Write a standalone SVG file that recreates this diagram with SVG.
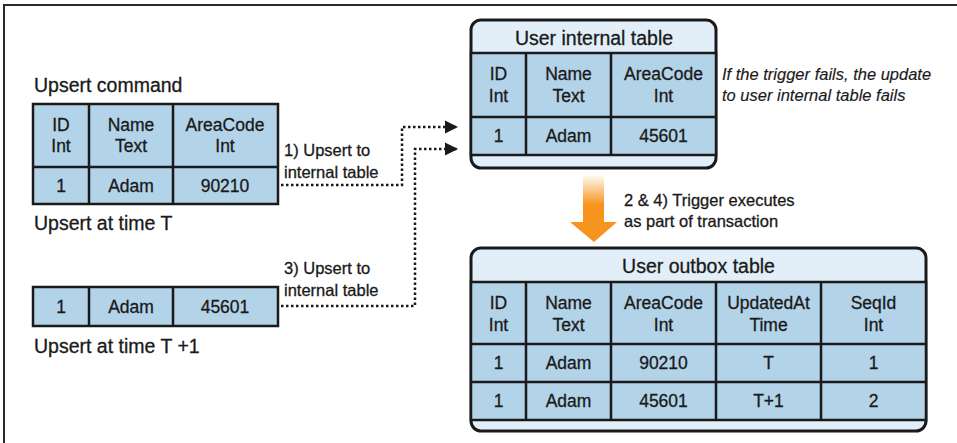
<svg xmlns="http://www.w3.org/2000/svg" width="957" height="443" viewBox="0 0 957 443">
  <style>
    text { font-family: "Liberation Sans", Arial, sans-serif; fill: #1a1a1a; stroke: #1a1a1a; stroke-width: 0.3; }
    .cell { fill: #b3d3e8; stroke: #1a1a1a; stroke-width: 2.5; }
    .band { fill: #e2eff8; stroke: #1a1a1a; stroke-width: 3; }
    .grid { stroke: #1a1a1a; stroke-width: 2.5; fill: none; }
    .c { font-size: 17.5px; text-anchor: middle; }
    .lbl { font-size: 19.5px; }
    .note { font-size: 16.5px; }
    .it { font-size: 16.5px; font-style: italic; stroke-width: 0.15; }
    .title { font-size: 19.5px; text-anchor: middle; }
    .dot { fill: none; stroke: #1a1a1a; stroke-width: 2.5; stroke-dasharray: 2.5 2.5; }
  </style>
  <defs>
    <marker id="head" viewBox="0 0 10 10" refX="10" refY="5" markerWidth="13" markerHeight="14" markerUnits="userSpaceOnUse" orient="auto">
      <path d="M0,0 L10,5 L0,10 Z" fill="#1a1a1a"/>
    </marker>
    <linearGradient id="fade" x1="0" y1="0" x2="0" y2="1">
      <stop offset="0" stop-color="#f7941d" stop-opacity="0"/>
      <stop offset="0.45" stop-color="#f7941d" stop-opacity="1"/>
      <stop offset="1" stop-color="#f7941d"/>
    </linearGradient>
  </defs>

  <!-- page frame: top and left rules -->
  <path d="M4,443 V5 H957" fill="none" stroke="#2a2a2a" stroke-width="2"/>

  <!-- upsert command at time T -->
  <g id="upsert-t">
    <text class="lbl" x="34" y="92">Upsert command</text>
    <rect class="cell" x="33" y="104" width="245" height="100"/>
    <path class="grid" d="M33,167 H278 M89,104 V204 M173,104 V204"/>
    <text class="c" x="61" y="131">ID</text>
    <text class="c" x="61" y="152">Int</text>
    <text class="c" x="131" y="131">Name</text>
    <text class="c" x="131" y="152">Text</text>
    <text class="c" x="225" y="131">AreaCode</text>
    <text class="c" x="225" y="152">Int</text>
    <text class="c" x="61" y="192">1</text>
    <text class="c" x="131" y="192">Adam</text>
    <text class="c" x="225" y="192">90210</text>
    <text class="lbl" x="34" y="230">Upsert at time T</text>
  </g>

  <!-- upsert at time T+1 -->
  <g id="upsert-t1">
    <rect class="cell" x="33" y="287" width="245" height="39"/>
    <path class="grid" d="M89,287 V326 M173,287 V326"/>
    <text class="c" x="61" y="313">1</text>
    <text class="c" x="131" y="313">Adam</text>
    <text class="c" x="225" y="313">45601</text>
    <text class="lbl" x="34" y="353">Upsert at time T +1</text>
  </g>

  <!-- user internal table -->
  <g id="internal-table">
    <rect class="band" x="471" y="20" width="245" height="148" rx="10"/>
    <rect class="cell" x="471" y="53" width="245" height="102"/>
    <path class="grid" d="M471,117 H716 M526,53 V155 M611,53 V155"/>
    <text class="title" x="594" y="45">User internal table</text>
    <text class="c" x="498.5" y="80">ID</text>
    <text class="c" x="498.5" y="102">Int</text>
    <text class="c" x="568.5" y="80">Name</text>
    <text class="c" x="568.5" y="102">Text</text>
    <text class="c" x="663.5" y="80">AreaCode</text>
    <text class="c" x="663.5" y="102">Int</text>
    <text class="c" x="498.5" y="142">1</text>
    <text class="c" x="568.5" y="142">Adam</text>
    <text class="c" x="663.5" y="142">45601</text>
  </g>

  <text class="it" x="722" y="80">If the trigger fails, the update</text>
  <text class="it" x="722" y="101">to user internal table fails</text>

  <!-- user outbox table -->
  <g id="outbox-table">
    <rect class="band" x="471" y="248" width="455" height="183" rx="10"/>
    <rect class="cell" x="471" y="282" width="455" height="138"/>
    <path class="grid" d="M471,344 H926 M471,382 H926 M526,282 V420 M611,282 V420 M716,282 V420 M821,282 V420"/>
    <text class="title" x="698.5" y="273">User outbox table</text>
    <text class="c" x="498.5" y="309">ID</text>
    <text class="c" x="498.5" y="331">Int</text>
    <text class="c" x="568.5" y="309">Name</text>
    <text class="c" x="568.5" y="331">Text</text>
    <text class="c" x="663.5" y="309">AreaCode</text>
    <text class="c" x="663.5" y="331">Int</text>
    <text class="c" x="768.5" y="309">UpdatedAt</text>
    <text class="c" x="768.5" y="331">Time</text>
    <text class="c" x="873.5" y="309">SeqId</text>
    <text class="c" x="873.5" y="331">Int</text>
    <text class="c" x="498.5" y="369">1</text>
    <text class="c" x="568.5" y="369">Adam</text>
    <text class="c" x="663.5" y="369">90210</text>
    <text class="c" x="768.5" y="369">T</text>
    <text class="c" x="873.5" y="369">1</text>
    <text class="c" x="498.5" y="407">1</text>
    <text class="c" x="568.5" y="407">Adam</text>
    <text class="c" x="663.5" y="407">45601</text>
    <text class="c" x="768.5" y="407">T+1</text>
    <text class="c" x="873.5" y="407">2</text>
  </g>

  <!-- connectors -->
  <g id="connectors">
    <path class="dot" d="M281,185 H402 V127 H458" marker-end="url(#head)"/>
    <path class="dot" d="M281,306 H415 V149 H458" marker-end="url(#head)"/>
    <text class="note" x="284" y="156">1) Upsert to</text>
    <text class="note" x="284" y="178">internal table</text>
    <text class="note" x="284" y="274">3) Upsert to</text>
    <text class="note" x="284" y="296">internal table</text>
    <path d="M583,174 H604 V222 H617 L594,242 L570,222 H583 Z" fill="url(#fade)"/>
    <text class="note" x="624" y="206">2 &amp; 4) Trigger executes</text>
    <text class="note" x="624" y="227">as part of transaction</text>
  </g>
</svg>
